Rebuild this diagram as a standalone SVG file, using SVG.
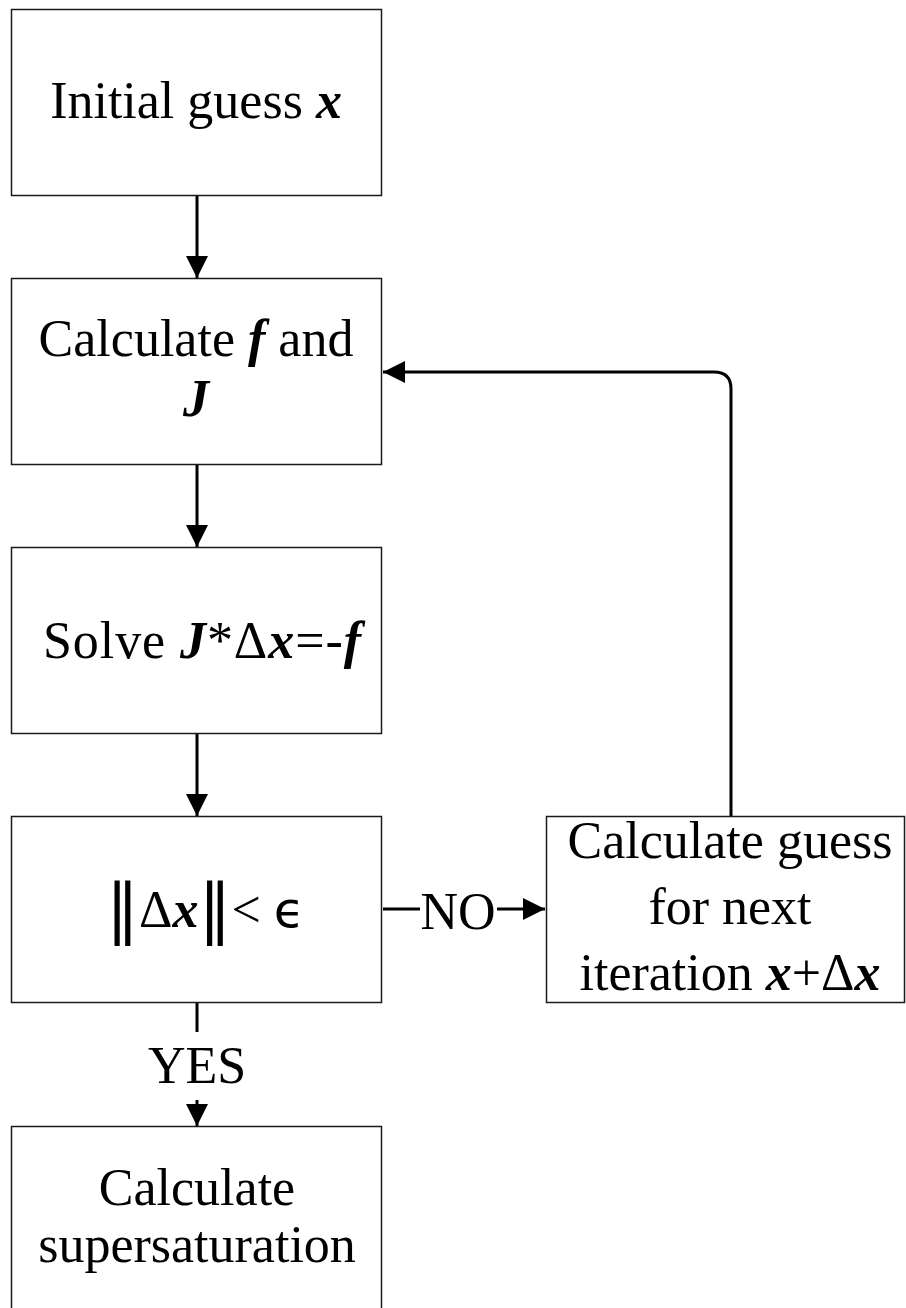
<svg xmlns="http://www.w3.org/2000/svg" width="906" height="1308" viewBox="0 0 906 1308">
<defs>
<style>
.box{fill:#fff;stroke:#1a1a1a;stroke-width:1.5}
.t{font-family:"Liberation Serif","Times New Roman",serif;font-size:52px;fill:#000}
.b{font-weight:bold;font-style:italic}
.c{fill:none;stroke:#000;stroke-width:3}
</style>
<marker id="ah" viewBox="0 0 22 22" refX="22" refY="11" markerWidth="22" markerHeight="22" markerUnits="userSpaceOnUse" orient="auto">
<path d="M0,0 L22,11 L0,22 Z" fill="#000"/>
</marker>
</defs>
<rect width="906" height="1308" fill="#fff"/>
<g id="connectors">
<line class="c" x1="197" y1="196" x2="197" y2="278" marker-end="url(#ah)"/>
<line class="c" x1="197" y1="465" x2="197" y2="547" marker-end="url(#ah)"/>
<line class="c" x1="197" y1="734" x2="197" y2="816" marker-end="url(#ah)"/>
<line class="c" x1="197" y1="1003" x2="197" y2="1032"/>
<line class="c" x1="197" y1="1100" x2="197" y2="1126" marker-end="url(#ah)"/>
<line class="c" x1="383" y1="909" x2="420" y2="909"/>
<line class="c" x1="497" y1="909" x2="545" y2="909" marker-end="url(#ah)"/>
<path class="c" d="M731,816 L731,389 Q731,372 714,372 L383,372" marker-end="url(#ah)"/>
<text class="t" x="458" y="929" text-anchor="middle">NO</text>
<text class="t" x="197" y="1083" text-anchor="middle">YES</text>
</g>
<g id="n1">
<rect class="box" x="11.5" y="9.5" width="370" height="186"/>
<text class="t" x="196" y="118" text-anchor="middle">Initial guess <tspan class="b">x</tspan></text>
</g>
<g id="n2">
<rect class="box" x="11.5" y="278.5" width="370" height="186"/>
<text class="t" x="196" y="356" text-anchor="middle">Calculate <tspan class="b">f</tspan> and</text>
<text class="t b" x="196" y="416" text-anchor="middle">J</text>
</g>
<g id="n3">
<rect class="box" x="11.5" y="547.5" width="370" height="186"/>
<text class="t" x="202" y="658" text-anchor="middle" textLength="318">Solve <tspan class="b">J</tspan>*Δ<tspan class="b">x</tspan>=-<tspan class="b">f</tspan></text>
</g>
<g id="n4">
<rect class="box" x="11.5" y="816.5" width="370" height="186"/>
<text class="t" x="106" y="927"><tspan font-family="'DejaVu Serif',serif" font-size="66" dy="4">‖</tspan><tspan dy="-4">Δ</tspan><tspan class="b">x</tspan><tspan font-family="'DejaVu Serif',serif" font-size="66" dy="4">‖</tspan><tspan dy="-4">&lt; </tspan><tspan font-family="'DejaVu Sans',sans-serif" font-size="50">ϵ</tspan></text>
</g>
<g id="n5">
<rect class="box" x="546.5" y="816.5" width="358" height="186"/>
<text class="t" x="730" y="858" text-anchor="middle">Calculate guess</text>
<text class="t" x="730" y="924" text-anchor="middle">for next</text>
<text class="t" x="730" y="990" text-anchor="middle">iteration <tspan class="b">x</tspan>+Δ<tspan class="b">x</tspan></text>
</g>
<g id="n6">
<rect class="box" x="11.5" y="1126.5" width="370" height="190"/>
<text class="t" x="197" y="1205" text-anchor="middle">Calculate</text>
<text class="t" x="197" y="1262" text-anchor="middle">supersaturation</text>
</g>
</svg>
